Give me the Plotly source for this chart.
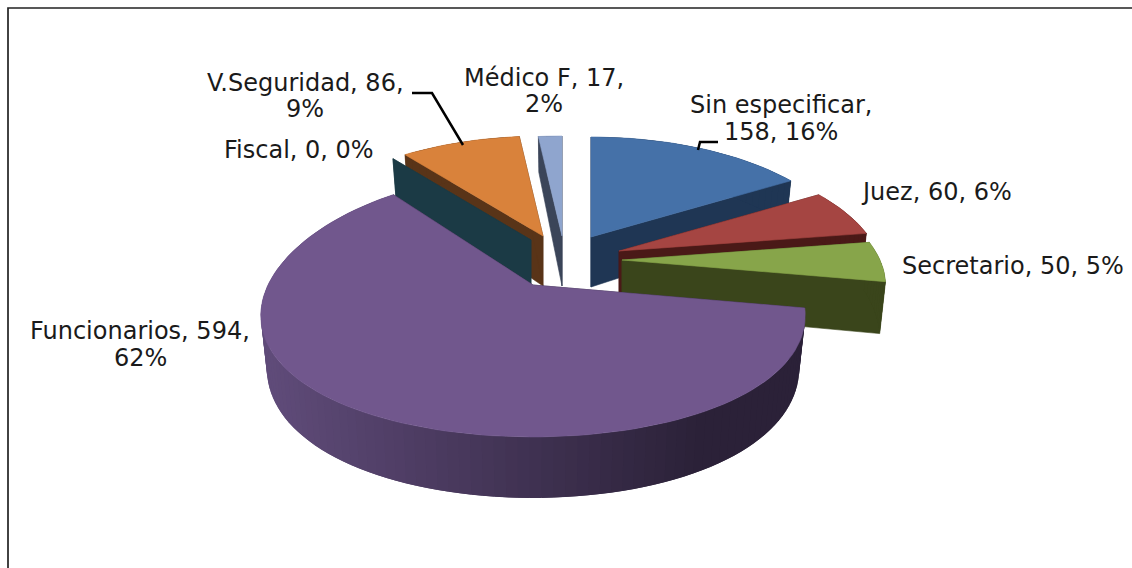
import math
import plotly.graph_objects as go

# ---- data ----
categories = ["Sin especificar", "Juez", "Secretario", "Funcionarios", "Fiscal", "V.Seguridad", "Médico F"]
values = [158, 60, 50, 594, 0, 86, 17]

# ---- style ----
top_colors = ["#4571A8", "#A54542", "#87A54A", "#71578D", "#1B3A45", "#D9823B", "#8FA5CE"]
wall_colors = ["#1F3654", "#4A1917", "#3A451B", "#2B2138", "#1B3A45", "#593418", "#3B4559"]
# centre of each exploded slice on the page
apex = {"Sin especificar": (591, 237), "Juez": (619, 251), "Secretario": (622, 260),
        "Funcionarios": (533, 285), "Fiscal": (531, 240), "V.Seguridad": (543, 236), "Médico F": (562, 236)}
draw_order = ["V.Seguridad", "Médico F", "Fiscal", "Sin especificar", "Juez", "Secretario", "Funcionarios"]
# centre x, y of each text line
label_lines = {
    "Sin especificar": [(781, 105), (781, 132)],
    "Juez": [(936, 192)],
    "Secretario": [(1013, 266)],
    "Funcionarios": [(140, 331), (140, 358)],
    "Fiscal": [(299, 150)],
    "V.Seguridad": [(305, 83), (305, 109)],
    "Médico F": [(544, 78), (544, 104)],
}
FONT = "DejaVu Sans"
FS = 24

total = sum(values)


def project(angle, cx, cy, name):
    # the near slice is drawn with a stronger perspective than the far ones
    if name == "Funcionarios":
        sx, sy, kx, ky = 265.0, 129.0, 0.229, 0.151
    else:
        sx, sy, kx, ky = 258.0, 120.6, 0.206, 0.206
    X, Y = math.sin(angle), math.cos(angle)
    return cx + sx * X / (1 + kx * Y), cy - sy * Y / (1 + ky * Y), Y


def depth(Y):
    return 50 - 14 * Y if Y > 0 else 50 - 11 * Y


def drop(px, py, Y, cx):
    return cx + (px - cx) * 0.978, py + depth(Y)


def mix(a, b, t):
    t = max(0.0, min(1.0, t))
    ca = [int(a[i:i + 2], 16) for i in (1, 3, 5)]
    cb = [int(b[i:i + 2], 16) for i in (1, 3, 5)]
    return "#" + "".join(f"{round(p + (q - p) * t):02x}" for p, q in zip(ca, cb))


def poly(fig, xs, ys, color, name, width=0.6):
    fig.add_trace(go.Scatter(x=xs + xs[:1], y=ys + ys[:1], mode="lines", fill="toself",
                             fillcolor=color, line=dict(color=color, width=width),
                             hoverinfo="text", text=name, showlegend=False))


fig = go.Figure()

# slice angles follow the values, clockwise from twelve o'clock
spans = {}
acc = 0
for c, v in zip(categories, values):
    spans[c] = (acc / total * 2 * math.pi, (acc + v) / total * 2 * math.pi)
    acc += v

for name in draw_order:
    i = categories.index(name)
    a0, a1 = spans[name]
    cx, cy = apex[name]
    n = max(2, int((a1 - a0) / math.radians(2)))
    angs = [a0 + (a1 - a0) * j / n for j in range(n + 1)]
    pts = [project(a, cx, cy, name) for a in angs]
    hover = f"{name}: {values[i]}"

    # radial cut faces
    for px, py, Y in (pts[0], pts[-1]):
        bx, by = drop(px, py, Y, cx)
        poly(fig, [cx, px, bx, cx], [cy, py, by, cy + depth(0)], wall_colors[i], hover)

    if a1 > a0:
        # outer wall: each strip runs on under the next one, so no seams show
        for j in range(n):
            p, q = pts[j], pts[min(j + 2, n)]
            b1, b2 = drop(p[0], p[1], p[2], cx), drop(q[0], q[1], q[2], cx)
            col = wall_colors[i]
            if name == "Funcionarios":
                mid = 0.5 * (pts[j][0] + pts[j + 1][0])
                col = mix("#5F4B79", "#2B2138", (mid - 270) / 430)
            poly(fig, [p[0], q[0], b2[0], b1[0]], [p[1], q[1], b2[1], b1[1]], col, hover, width=0)

        # top face
        xs = [cx] + [p[0] for p in pts]
        ys = [cy] + [p[1] for p in pts]
        poly(fig, xs, ys, top_colors[i], hover)

# labels: one annotation per text line
for c, v in zip(categories, values):
    pct = round(v / total * 100)
    lines = label_lines[c]
    if len(lines) == 1:
        texts = [f"{c}, {v}, {pct}%"]
    elif c == "Sin especificar":
        texts = [f"{c},", f"{v}, {pct}%"]
    else:
        texts = [f"{c}, {v},", f"{pct}%"]
    for (x, y), t in zip(lines, texts):
        fig.add_annotation(x=x, y=y, text=t, showarrow=False, xanchor="center", yanchor="middle",
                           align="center", font=dict(family=FONT, size=FS, color="#1a1a1a"))

fig.update_layout(
    width=1132, height=568, autosize=False,
    margin=dict(l=0, r=0, t=0, b=0),
    paper_bgcolor="white", plot_bgcolor="white", showlegend=False,
    xaxis=dict(range=[0, 1132], visible=False, fixedrange=True),
    yaxis=dict(range=[568, 0], visible=False, fixedrange=True),
    shapes=[
        dict(type="path", path="M 412 93 L 432 93 L 463 145", line=dict(color="black", width=2.5)),
        dict(type="path", path="M 698 150 L 700 142 L 718 142", line=dict(color="black", width=2.5)),
        dict(type="path", path="M 8 568 L 8 8 L 1132 8", line=dict(color="#222222", width=1.7)),
    ],
)

fig.write_html("out.html", config={"displayModeBar": False},
               post_script="document.body.style.margin='0';document.body.style.overflow='hidden';")
